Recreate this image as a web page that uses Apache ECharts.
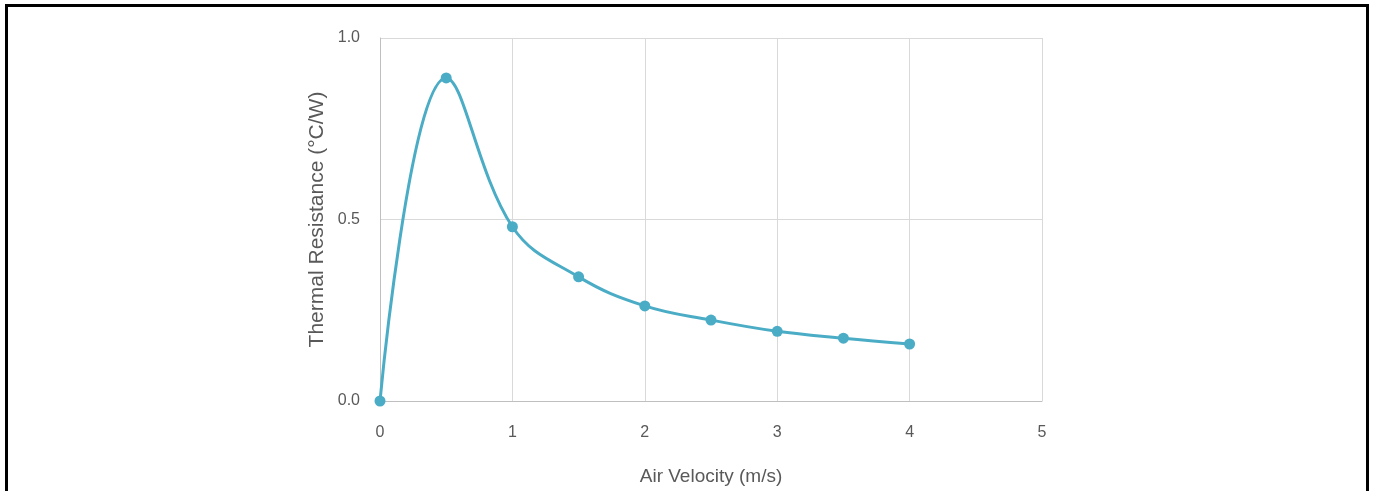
<!DOCTYPE html>
<html>
<head>
<meta charset="utf-8">
<script src="https://cdn.jsdelivr.net/npm/echarts@6/dist/echarts.min.js"></script>
<style>
html,body{margin:0;padding:0;background:#fff;}
#frame{position:absolute;left:5px;top:4px;width:1358px;height:500px;border:3px solid #000;border-bottom:none;box-sizing:content-box;}
#chart{position:absolute;left:0;top:0;width:1373px;height:491px;}
</style>
</head>
<body>
<div id="frame"></div>
<div id="chart"></div>
<script>
const velocity = [0, 0.5, 1, 1.5, 2, 2.5, 3, 3.5, 4];
const resistance = [0, 0.89, 0.48, 0.342, 0.262, 0.223, 0.192, 0.173, 0.157];
const xTitle = 'Air Velocity (m/s)';
const yTitle = 'Thermal Resistance (°C/W)';

const chart = echarts.init(document.getElementById('chart'));
const font = "'Liberation Sans',sans-serif";
chart.setOption({
  animation: false,
  grid: {left: 380, right: 331, top: 38, bottom: 89},
  xAxis: {
    type: 'value', min: 0, max: 5, interval: 1,
    name: xTitle, nameLocation: 'middle', nameGap: 66,
    nameTextStyle: {color: '#595959', fontSize: 19, fontFamily: font},
    axisLine: {show: true, lineStyle: {color: '#bfbfbf', width: 1}},
    axisTick: {show: false},
    axisLabel: {color: '#595959', fontSize: 16, fontFamily: font, margin: 24},
    splitLine: {show: true, lineStyle: {color: '#d9d9d9', width: 1}}
  },
  yAxis: {
    type: 'value', min: 0, max: 1, interval: 0.5,
    name: yTitle, nameLocation: 'middle', nameGap: 52,
    nameTextStyle: {color: '#595959', fontSize: 21, fontFamily: font},
    axisLine: {show: true, lineStyle: {color: '#bfbfbf', width: 1}},
    axisTick: {show: false},
    axisLabel: {color: '#595959', fontSize: 16, fontFamily: font, margin: 20, formatter: v => v.toFixed(1)},
    splitLine: {show: true, lineStyle: {color: '#d9d9d9', width: 1}}
  },
  series: [{
    type: 'line',
    data: velocity.map((v, i) => [v, resistance[i]]),
    smooth: 0.4,
    symbol: 'circle', symbolSize: 11,
    lineStyle: {color: '#4bacc6', width: 3},
    itemStyle: {color: '#4bacc6'}
  }]
});
</script>
</body>
</html>
